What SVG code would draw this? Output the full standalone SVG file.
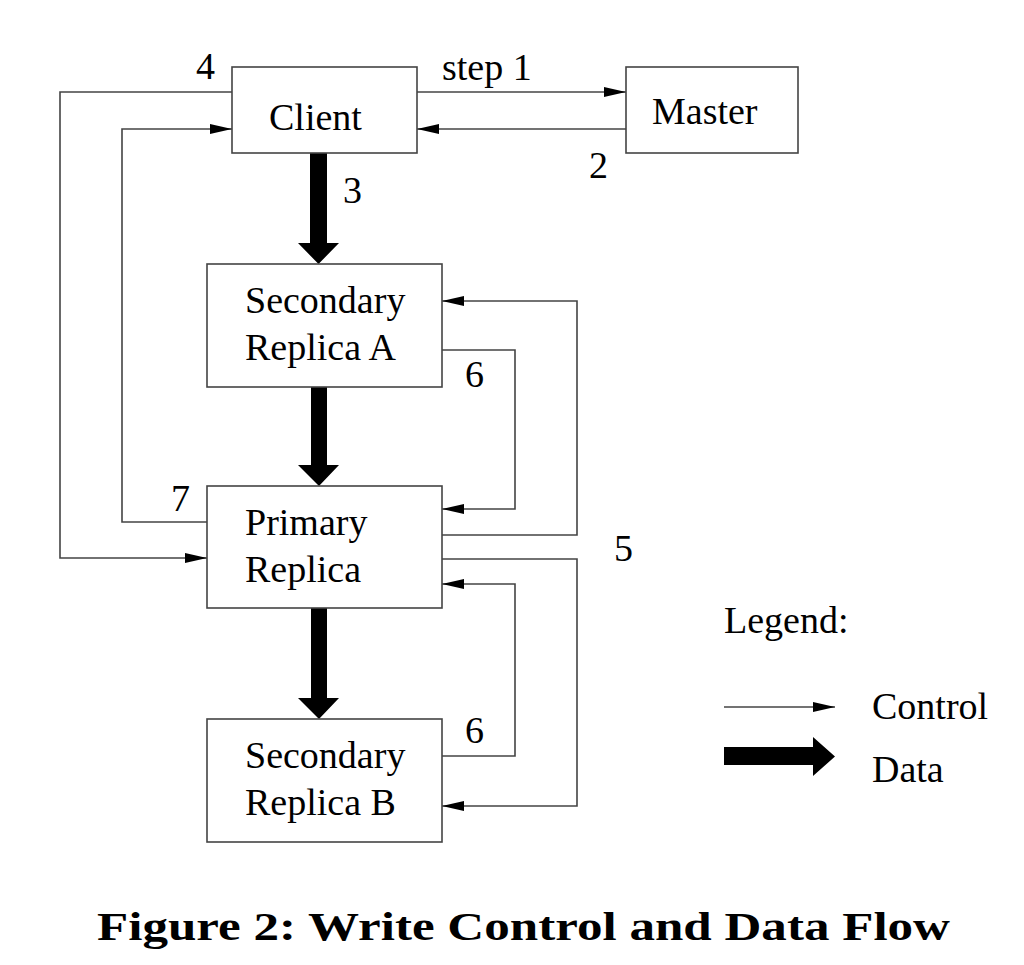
<svg xmlns="http://www.w3.org/2000/svg" width="1024" height="965" viewBox="0 0 1024 965">
<style>
.box{fill:#fff;stroke:#444;stroke-width:1.6}
.ctl{fill:none;stroke:#444;stroke-width:1.6}
.t{font-family:"Liberation Serif","Times New Roman",serif;font-size:38px;fill:#000}
.cap{font-family:"Liberation Serif","Times New Roman",serif;font-size:41px;font-weight:bold;fill:#000}
.data{fill:#000}
</style>
<defs>
<marker id="ah" viewBox="0 0 22 10" refX="22" refY="5" markerWidth="22" markerHeight="10" markerUnits="userSpaceOnUse" orient="auto">
<path d="M0,0 L22,5 L0,10 Z" fill="#000"/>
</marker>
</defs>
<rect width="1024" height="965" fill="#fff"/>
<g id="connectors">
<path class="ctl" d="M417,92 H626" marker-end="url(#ah)"/>
<path class="ctl" d="M626,129 H417" marker-end="url(#ah)"/>
<path class="ctl" d="M232,92 H60 V558 H207" marker-end="url(#ah)"/>
<path class="ctl" d="M207,522 H122 V129 H232" marker-end="url(#ah)"/>
<path class="ctl" d="M442,535 H577 V301 H442" marker-end="url(#ah)"/>
<path class="ctl" d="M442,350 H515 V509 H442" marker-end="url(#ah)"/>
<path class="ctl" d="M442,559 H577 V806 H442" marker-end="url(#ah)"/>
<path class="ctl" d="M442,756 H515 V584 H442" marker-end="url(#ah)"/>
<path class="data" d="M310,153 H327 V243 H339 L318.5,264 L298,243 H310 Z"/>
<path class="data" d="M311,387 H327 V465 H339 L319,486 L298,465 H311 Z"/>
<path class="data" d="M311,608 H327 V698 H339 L319,719 L298,698 H311 Z"/>
</g>
<g id="client"><rect class="box" x="232" y="67" width="185" height="86"/><text class="t" x="269" y="130">Client</text></g>
<g id="master"><rect class="box" x="626" y="67" width="172" height="86"/><text class="t" x="652" y="124">Master</text></g>
<g id="secondaryA"><rect class="box" x="207" y="264" width="235" height="123"/><text class="t" x="245" y="313">Secondary</text><text class="t" x="245" y="360">Replica A</text></g>
<g id="primary"><rect class="box" x="207" y="486" width="235" height="122"/><text class="t" x="245" y="535">Primary</text><text class="t" x="245" y="582">Replica</text></g>
<g id="secondaryB"><rect class="box" x="207" y="719" width="235" height="123"/><text class="t" x="245" y="768">Secondary</text><text class="t" x="245" y="815">Replica B</text></g>
<g id="labels">
<text class="t" x="442" y="80">step 1</text>
<text class="t" x="589" y="178">2</text>
<text class="t" x="343" y="203">3</text>
<text class="t" x="196" y="79">4</text>
<text class="t" x="614" y="561">5</text>
<text class="t" x="465" y="387">6</text>
<text class="t" x="465" y="743">6</text>
<text class="t" x="171" y="511">7</text>
</g>
<g id="legend">
<text class="t" x="724" y="633">Legend:</text>
<path class="ctl" d="M724,707 H835" stroke="#000" stroke-width="1.2" marker-end="url(#ah)"/>
<text class="t" x="872" y="719">Control</text>
<path class="data" d="M724,747 H813 V737 L835,756.5 L813,776 V765 H724 Z"/>
<text class="t" x="872" y="782">Data</text>
</g>
<text class="cap" x="97" y="940" textLength="853" lengthAdjust="spacingAndGlyphs">Figure 2:  Write Control and Data Flow</text>
</svg>
